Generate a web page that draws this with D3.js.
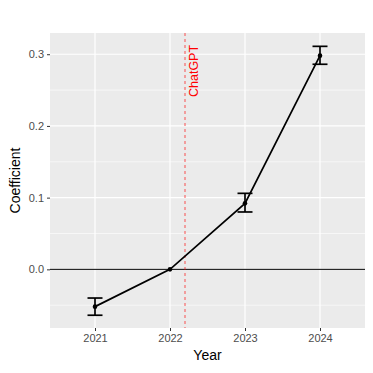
<!DOCTYPE html>
<html>
<head>
<meta charset="utf-8">
<script src="https://cdn.jsdelivr.net/npm/d3@7"></script>
<style>
	body { margin: 0; background: #fff; }
	text { font-family: "Liberation Sans", Arial, sans-serif; }
</style>
</head>
<body>
<div id="chart"></div>
<script>
var years = [2021, 2022, 2023, 2024];
var coef = [-0.052, 0, 0.092, 0.298];
var lower = [-0.064, 0, 0.080, 0.286];
var upper = [-0.040, 0, 0.106, 0.311];
var yTicks = [0.0, 0.1, 0.2, 0.3];
var yMinor = [-0.05, 0.05, 0.15, 0.25];
var eventYear = 2022.2;
var eventLabel = "ChatGPT";

var W = 373, H = 373;
var margin = { top: 33, right: 8, bottom: 45, left: 50 };
var width = W - margin.left - margin.right;
var height = H - margin.top - margin.bottom;

var svg = d3.select("#chart").append("svg")
	.attr("width", W)
	.attr("height", H);

var g = svg.append("g")
	.attr("transform", "translate(" + margin.left + "," + margin.top + ")");

var x = d3.scaleLinear().domain([2020.4, 2024.6]).range([0, width]);
var y = d3.scaleLinear().domain([-0.0818, 0.3296]).range([height, 0]);

// panel background
g.append("rect")
	.attr("width", width)
	.attr("height", height)
	.attr("fill", "#ebebeb");

// minor grid
g.selectAll(".minor").data(yMinor).enter().append("line")
	.attr("x1", 0).attr("x2", width)
	.attr("y1", d => y(d)).attr("y2", d => y(d))
	.attr("stroke", "#fff").attr("stroke-width", 0.6);

// major grid
g.selectAll(".hmajor").data(yTicks).enter().append("line")
	.attr("x1", 0).attr("x2", width)
	.attr("y1", d => y(d)).attr("y2", d => y(d))
	.attr("stroke", "#fff").attr("stroke-width", 1.2);
g.selectAll(".vmajor").data(years).enter().append("line")
	.attr("y1", 0).attr("y2", height)
	.attr("x1", d => x(d)).attr("x2", d => x(d))
	.attr("stroke", "#fff").attr("stroke-width", 1.2);

// axes
var xAxis = d3.axisBottom(x).tickValues(years).tickFormat(d3.format("d")).tickSize(3).tickPadding(3);
var yAxis = d3.axisLeft(y).tickValues(yTicks).tickFormat(d3.format(".1f")).tickSize(3).tickPadding(3);

var gx = g.append("g").attr("transform", "translate(0," + height + ")").call(xAxis);
var gy = g.append("g").call(yAxis);
[gx, gy].forEach(function (a) {
	a.select(".domain").remove();
	a.selectAll(".tick line").attr("stroke", "#333").attr("stroke-width", 1);
	a.selectAll(".tick text").attr("fill", "#4d4d4d").style("font-size", "11px");
});

// zero line
g.append("line")
	.attr("x1", 0).attr("x2", width)
	.attr("y1", y(0)).attr("y2", y(0))
	.attr("stroke", "#000").attr("stroke-width", 1);

// event line
g.append("line")
	.attr("x1", x(eventYear)).attr("x2", x(eventYear))
	.attr("y1", 0).attr("y2", height)
	.attr("stroke", "red").attr("stroke-opacity", 0.6)
	.attr("stroke-width", 1.1)
	.attr("stroke-dasharray", "3,3");

g.append("text")
	.attr("transform", "translate(" + (x(eventYear) + 12.5) + "," + y(0.313) + ") rotate(-90)")
	.attr("text-anchor", "end")
	.attr("fill", "red")
	.style("font-size", "12.5px")
	.text(eventLabel);

// line
var data = years.map((d, i) => ({ year: d, c: coef[i], lo: lower[i], hi: upper[i] }));
g.append("path")
	.datum(data)
	.attr("fill", "none")
	.attr("stroke", "#000")
	.attr("stroke-width", 1.7)
	.attr("d", d3.line().x(d => x(d.year)).y(d => y(d.c)));

// error bars
var eb = g.selectAll(".eb").data(data.filter(d => d.hi !== d.lo)).enter().append("g")
	.attr("stroke", "#000").attr("stroke-width", 1.7);
eb.append("line")
	.attr("x1", d => x(d.year)).attr("x2", d => x(d.year))
	.attr("y1", d => y(d.lo)).attr("y2", d => y(d.hi));
eb.append("line")
	.attr("x1", d => x(d.year) - 7.5).attr("x2", d => x(d.year) + 7.5)
	.attr("y1", d => y(d.lo)).attr("y2", d => y(d.lo));
eb.append("line")
	.attr("x1", d => x(d.year) - 7.5).attr("x2", d => x(d.year) + 7.5)
	.attr("y1", d => y(d.hi)).attr("y2", d => y(d.hi));

// points
g.selectAll(".pt").data(data).enter().append("circle")
	.attr("cx", d => x(d.year))
	.attr("cy", d => y(d.c))
	.attr("r", 2.3)
	.attr("fill", "#000");

// titles
svg.append("text")
	.attr("x", margin.left + width / 2)
	.attr("y", H - 13)
	.attr("text-anchor", "middle")
	.style("font-size", "14px")
	.attr("fill", "#000")
	.text("Year");

svg.append("text")
	.attr("transform", "translate(20," + (margin.top + height / 2) + ") rotate(-90)")
	.attr("text-anchor", "middle")
	.style("font-size", "14px")
	.attr("fill", "#000")
	.text("Coefficient");
</script>
</body>
</html>
